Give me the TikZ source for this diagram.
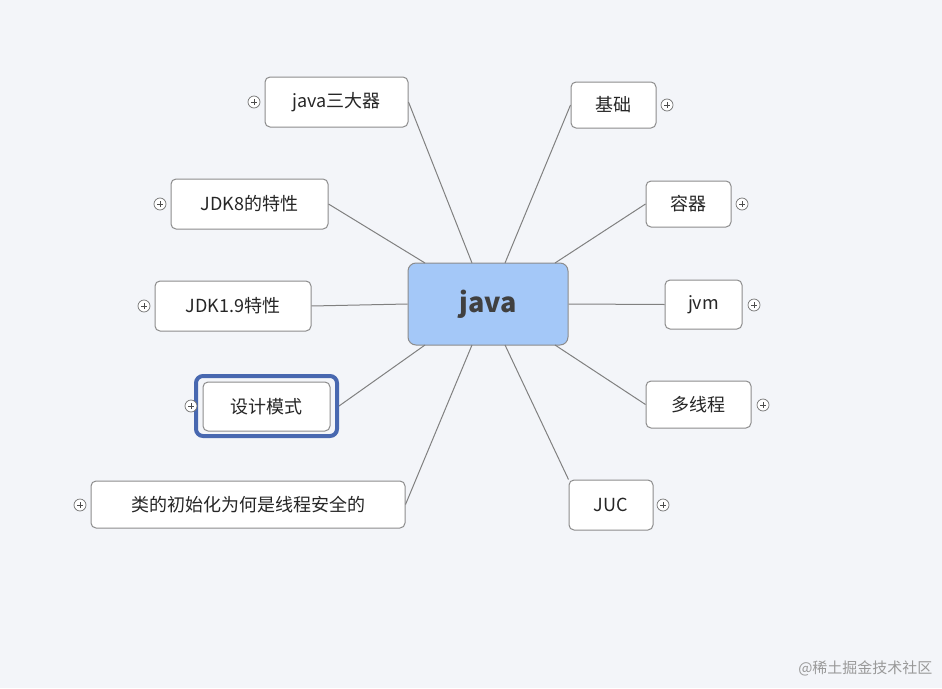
\documentclass[tikz,border=0pt]{standalone}
\usepackage{fontspec}
\setmainfont{Noto Sans CJK SC}
\begin{document}
\begin{tikzpicture}[x=1pt,y=-1pt,
  topic/.style={draw=black!45,fill=white,rounded corners=5pt,line width=1pt,inner sep=0pt,font=\fontsize{18}{20}\selectfont,text=black!85},
  link/.style={draw=black!50,line width=1pt},
  plus/.style={draw=black!55,fill=white,circle,minimum size=12pt,inner sep=0pt,line width=0.7pt,
    path picture={\draw[black!70,line width=0.7pt] ([xshift=-3pt]path picture bounding box.center)--([xshift=3pt]path picture bounding box.center) ([yshift=-3pt]path picture bounding box.center)--([yshift=3pt]path picture bounding box.center);}}]
\fill[fill={rgb,255:red,243;green,245;blue,249}] (0,0) rectangle (942,688);
\useasboundingbox (0,0) rectangle (942,688);
\node[draw=black!45,fill={rgb,255:red,164;green,200;blue,248},rounded corners=8pt,line width=1pt,minimum width=160pt,minimum height=82pt,font=\bfseries\fontsize{27}{30}\selectfont,text=black!75] (c) at (488,304) {java};
\node[topic,minimum width=143pt,minimum height=50pt] (a1) at (336.5,102) {java三大器};
\node[topic,minimum width=157pt,minimum height=50pt] (a2) at (249.5,204) {JDK8的特性};
\node[topic,minimum width=156pt,minimum height=50pt] (a3) at (233,306) {JDK1.9特性};
\node[draw={rgb,255:red,72;green,104;blue,176},rounded corners=7pt,line width=4pt,minimum width=141pt,minimum height=60pt] (a4f) at (266.5,406) {};
\node[topic,minimum width=127pt,minimum height=49pt] (a4) at (266.5,406.5) {设计模式};
\node[topic,minimum width=314pt,minimum height=47pt] (a5) at (248,504.5) {类的初始化为何是线程安全的};
\node[topic,minimum width=85pt,minimum height=46pt] (b1) at (613.5,105) {基础};
\node[topic,minimum width=85pt,minimum height=46pt] (b2) at (688.5,204) {容器};
\node[topic,minimum width=77pt,minimum height=49pt] (b3) at (703.5,304.5) {jvm};
\node[topic,minimum width=105pt,minimum height=47pt] (b4) at (698.5,404.5) {多线程};
\node[topic,minimum width=84pt,minimum height=50pt] (b5) at (611,505) {JUC};
\draw[link] (a1.east) -- (472,263);
\draw[link] (a2.east) -- (425,263);
\draw[link] (a3.east) -- (c.west);
\draw[link] (a4f.east) -- (425,345);
\draw[link] (a5.east) -- (472,345);
\draw[link] (b1.west) -- (505,263);
\draw[link] (b2.west) -- (555,263);
\draw[link] (b3.west) -- (c.east);
\draw[link] (b4.west) -- (555,345);
\draw[link] (b5.north west) -- (505,345);
\node[plus] (p1) at (254,102) {};
\node[plus] (p2) at (160,204) {};
\node[plus] (p3) at (144,306) {};
\node[plus] (p4) at (191,406) {};
\node[plus] (p5) at (80,505) {};
\node[plus] (q1) at (667,105) {};
\node[plus] (q2) at (742,204) {};
\node[plus] (q3) at (754,305) {};
\node[plus] (q4) at (763,405) {};
\node[plus] (q5) at (663,505) {};
\node[text=black!40,font=\fontsize{15}{17}\selectfont,anchor=east] (wm) at (936,668) {@稀土掘金技术社区};
\end{tikzpicture}
\end{document}
